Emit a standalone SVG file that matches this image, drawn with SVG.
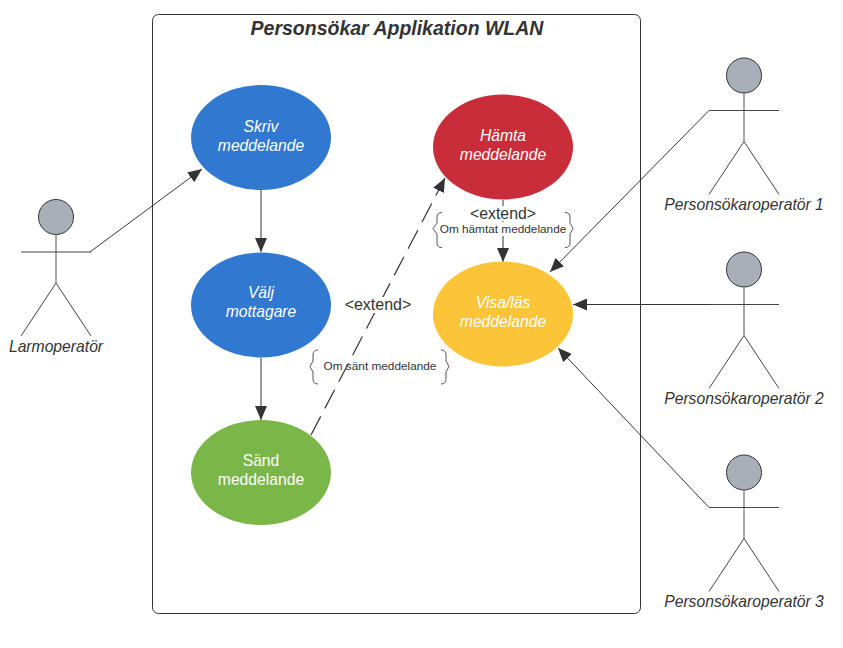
<svg xmlns="http://www.w3.org/2000/svg" width="843" height="648" viewBox="0 0 843 648">
<style>
text{font-family:"Liberation Sans",Arial,sans-serif;fill:#333;text-anchor:middle}
.u{font-size:15.700px;font-style:italic;fill:#fff}
.n{font-size:15.700px;fill:#fff}
.a{font-size:15.700px;font-style:italic}
.c{fill:none;stroke:#333;stroke-width:1}
.d{stroke-dasharray:21 9;stroke-width:1.2}
.h{fill:#a9afb8;stroke:#333;stroke-width:1}
.s{fill:none;stroke:#444;stroke-width:1}
.t{stroke:#888;stroke-width:1.5;fill:none}
.b{fill:none;stroke:#555;stroke-width:1}
</style>
<defs>
<marker id="ah" markerUnits="userSpaceOnUse" markerWidth="15" markerHeight="12" refX="14" refY="6" orient="auto"><path d="M0,0L14,6L0,12Z" fill="#333"/></marker>
<g id="actor"><circle class="h" cx="0" cy="0" r="17.500"/><path class="t" d="M0,17.500V66"/><path class="s" d="M-35,35H35M0,66L-35,119M0,66L35,119"/></g>
</defs>
<rect id="boundary" x="152.500" y="14.500" width="488" height="599" rx="6" fill="#fff" stroke="#333"/>
<text x="397" y="34.500" font-size="19.500" font-weight="bold" font-style="italic">Personsökar Applikation WLAN</text>
<g id="connectors">
<path class="c" marker-end="url(#ah)" d="M90,252L202,169"/>
<path class="c" marker-end="url(#ah)" d="M261,190V252"/>
<path class="c" marker-end="url(#ah)" d="M261,358V420"/>
<path class="c d" marker-end="url(#ah)" d="M311,435L445,178"/>
<path class="c" marker-end="url(#ah)" d="M503,200V262"/>
<path class="c" marker-end="url(#ah)" d="M709,110.500L550,272"/>
<path class="c" marker-end="url(#ah)" d="M709,304.500H573"/>
<path class="c" marker-end="url(#ah)" d="M709,507.500L558,348"/>
</g>
<g id="skriv"><ellipse cx="261" cy="137.500" rx="70" ry="52.500" fill="#3078d0"/><text class="u" x="261" y="132">Skriv</text><text class="u" x="261" y="151">meddelande</text></g>
<g id="valj"><ellipse cx="261" cy="305" rx="70" ry="52.500" fill="#3078d0"/><text class="u" x="261" y="298">Välj</text><text class="u" x="261" y="317">mottagare</text></g>
<g id="sand"><ellipse cx="261" cy="472.500" rx="70" ry="52.500" fill="#7ab648"/><text class="n" x="261" y="466">Sänd</text><text class="n" x="261" y="485">meddelande</text></g>
<g id="hamta"><ellipse cx="503" cy="147" rx="70" ry="52.500" fill="#c92d39"/><text class="u" x="503" y="141">Hämta</text><text class="u" x="503" y="160">meddelande</text></g>
<g id="visa"><ellipse cx="503" cy="314" rx="70" ry="52.500" fill="#fcc438"/><text class="u" x="503" y="307.500">Visa/läs</text><text class="u" x="503" y="326.500">meddelande</text></g>
<g id="extend1"><rect x="470" y="206" width="67" height="15" fill="#fff"/><text x="503" y="219" font-size="15.800">&lt;extend&gt;</text></g>
<g id="cond1"><rect x="439" y="222" width="128" height="14" fill="#fff"/><text x="503" y="232.500" font-size="11.800">Om hämtat meddelande</text>
<path class="b" d="M442,212.500Q437,212.500 437,217V223L433,228.500L437,234V243Q437,247.500 442,247.500M565,212.500Q570,212.500 570,217V223L573,228.500L570,234V243Q570,247.500 565,247.500"/></g>
<g id="extend2"><rect x="345" y="297" width="67" height="16" fill="#fff"/><text x="378" y="310" font-size="16">&lt;extend&gt;</text></g>
<g id="cond2"><text x="380" y="370" font-size="11.800">Om sänt meddelande</text>
<path class="b" d="M318,350Q313,350 313,355V361L310,366.500L313,372V379Q313,384 318,384M441,350Q446,350 446,355V361L449,366.500L446,372V379Q446,384 441,384"/></g>
<g id="larm"><use href="#actor" x="56" y="217"/><text class="a" x="56" y="351.500">Larmoperatör</text></g>
<g id="p1"><use href="#actor" x="744" y="75.500"/><text class="a" x="744" y="210">Personsökaroperatör 1</text></g>
<g id="p2"><use href="#actor" x="744" y="269.500"/><text class="a" x="744" y="404">Personsökaroperatör 2</text></g>
<g id="p3"><use href="#actor" x="744" y="472.500"/><text class="a" x="744" y="607">Personsökaroperatör 3</text></g>
</svg>
